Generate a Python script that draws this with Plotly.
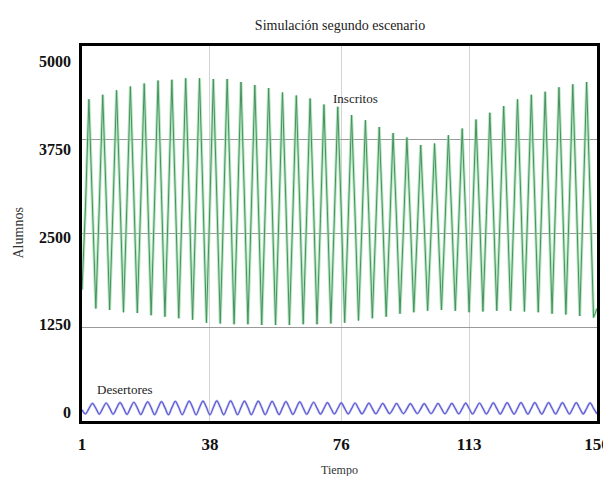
import plotly.graph_objects as go

# ---------------- data ----------------
tiempo = list(range(1, 151))

inscritos = [
    1750, 2850,
    4290, 2950, 1500, 2870,
    4350, 2970, 1480, 2890,
    4410, 2980, 1450, 2900,
    4460, 3000, 1440, 2920,
    4500, 3010, 1410, 2920,
    4540, 3020, 1390, 2920,
    4550, 3010, 1370, 2920,
    4570, 3010, 1350, 2910,
    4570, 2990, 1310, 2890,
    4560, 2980, 1300, 2880,
    4560, 2980, 1290, 2860,
    4520, 2960, 1290, 2830,
    4480, 2930, 1280, 2810,
    4440, 2910, 1280, 2780,
    4380, 2880, 1280, 2760,
    4340, 2870, 1290, 2740,
    4300, 2850, 1290, 2700,
    4220, 2810, 1300, 2700,
    4190, 2800, 1310, 2650,
    4080, 2760, 1340, 2620,
    4010, 2740, 1370, 2600,
    3920, 2710, 1390, 2570,
    3840, 2690, 1430, 2560,
    3780, 2670, 1450, 2520,
    3680, 2630, 1470, 2530,
    3700, 2640, 1480, 2600,
    3810, 2690, 1470, 2640,
    3900, 2730, 1450, 2690,
    4020, 2790, 1460, 2740,
    4110, 2840, 1470, 2780,
    4200, 2880, 1470, 2830,
    4290, 2920, 1460, 2860,
    4350, 2950, 1450, 2870,
    4390, 2960, 1430, 2890,
    4450, 2990, 1420, 2910,
    4490, 3000, 1400, 2910,
    4520, 3000, 1380, 1500,
]

desertores = [
    150,
    95, 165, 235, 170,
    92, 168, 240, 172,
    90, 170, 245, 172,
    88, 172, 250, 175,
    86, 175, 255, 178,
    85, 176, 258, 178,
    84, 178, 262, 180,
    84, 178, 265, 182,
    83, 180, 266, 182,
    83, 180, 268, 183,
    83, 180, 268, 183,
    84, 180, 266, 182,
    84, 178, 265, 180,
    85, 176, 262, 178,
    86, 175, 258, 176,
    88, 172, 255, 174,
    90, 170, 250, 172,
    92, 168, 246, 170,
    94, 166, 242, 168,
    95, 165, 240, 166,
    96, 164, 238, 165,
    97, 163, 236, 165,
    98, 162, 234, 164,
    98, 162, 232, 164,
    99, 162, 232, 164,
    98, 163, 234, 165,
    97, 164, 236, 166,
    96, 165, 238, 167,
    95, 166, 240, 168,
    94, 167, 242, 168,
    94, 168, 244, 169,
    93, 168, 245, 170,
    93, 169, 246, 170,
    93, 169, 246, 170,
    94, 168, 245, 170,
    94, 168, 244, 169,
    95, 167, 243, 168,
    96,
]

x_ticks = [1, 38, 76, 113, 150]
y_grid = [1250, 2500, 3750]
y_tick_text = ["5000", "3750", "2500", "1250", "0"]

SERIF = "Liberation Serif, Times New Roman, serif"

# page body has an 8px margin; size the figure so the plot lands where the
# reference has it and the page does not overflow
W, H = 603, 468
ML, MR, MT, MB = 74, 14, 38, 55
PW, PH = W - ML - MR, H - MT - MB

# Vensim-style label placement: end labels pulled inside the range
y_min, y_max = 0, 5000
n = len(y_tick_text)
hi = y_max - 0.042 * (y_max - y_min)
lo = y_min + 0.023 * (y_max - y_min)
y_label_pos = [hi - i * (hi - lo) / (n - 1) for i in range(n)]

fig = go.Figure()

# Inscritos: light halo + darker core
fig.add_trace(go.Scatter(x=tiempo, y=inscritos, mode="lines",
                         line=dict(color="rgba(150,222,165,0.7)", width=3),
                         hoverinfo="skip", showlegend=False))
fig.add_trace(go.Scatter(x=tiempo, y=inscritos, mode="lines",
                         line=dict(color="#4a8f62", width=1.0),
                         name="Inscritos", showlegend=False))

# Desertores
fig.add_trace(go.Scatter(x=tiempo, y=desertores, mode="lines",
                         line=dict(color="rgba(175,175,240,0.6)", width=2.6, shape="spline"),
                         hoverinfo="skip", showlegend=False, yaxis="y2"))
fig.add_trace(go.Scatter(x=tiempo, y=desertores, mode="lines",
                         line=dict(color="#5a5ad2", width=1.2, shape="spline"),
                         name="Desertores", showlegend=False, yaxis="y2"))

fig.update_layout(
    width=W, height=H,
    margin=dict(l=ML, r=MR, t=MT, b=MB, autoexpand=False),
    paper_bgcolor="white", plot_bgcolor="white",
    font=dict(family=SERIF, color="#222"),
    title=dict(text="Simulación segundo escenario", x=(340 - 8) / W, xanchor="center",
               y=1 - (25 - 8) / H, yanchor="middle",
               font=dict(family=SERIF, size=14, color="#222")),
    xaxis=dict(range=[1, 150], tickvals=x_ticks, ticktext=[str(v) for v in x_ticks],
               showgrid=True, gridcolor="#d4d4d4", gridwidth=1, automargin=False,
               showline=True, linecolor="black", linewidth=2.5, mirror=True,
               ticks="", zeroline=False, ticklabelstandoff=6,
               ticklabeloverflow="allow",
               tickfont=dict(family=SERIF, size=17, color="#111", weight="bold")),
    yaxis=dict(range=[y_min, y_max], tickvals=y_grid, showticklabels=False,
               showgrid=True, gridcolor="#9a9a9a", gridwidth=1, automargin=False,
               showline=True, linecolor="black", linewidth=2.5, mirror=True,
               ticks="", zeroline=False),
    yaxis2=dict(range=[y_min, y_max], overlaying="y", side="left",
                tickvals=y_label_pos, ticktext=y_tick_text, automargin=False,
                showgrid=False, zeroline=False, showline=False, ticks="",
                ticklabelstandoff=10,
                tickfont=dict(family=SERIF, size=16, color="#111", weight="bold")),
    annotations=[
        dict(text="Alumnos", xref="paper", yref="paper", x=(18 - 82) / PW, y=0.5,
             textangle=-90, showarrow=False, xanchor="center", yanchor="middle",
             font=dict(family=SERIF, size=14, color="#333")),
        dict(text="Tiempo", xref="paper", yref="paper", x=0.5, y=(421 - 470) / PH,
             showarrow=False, xanchor="center", yanchor="middle",
             font=dict(family=SERIF, size=12, color="#333")),
        dict(text="Inscritos", x=80, y=4300, xref="x", yref="y", showarrow=False,
             xanchor="center", yanchor="middle",
             font=dict(family=SERIF, size=13, color="#222")),
        dict(text="Desertores", x=13.5, y=420, xref="x", yref="y", showarrow=False,
             xanchor="center", yanchor="middle",
             font=dict(family=SERIF, size=13, color="#222")),
    ],
)

fig.write_html("out.html")
